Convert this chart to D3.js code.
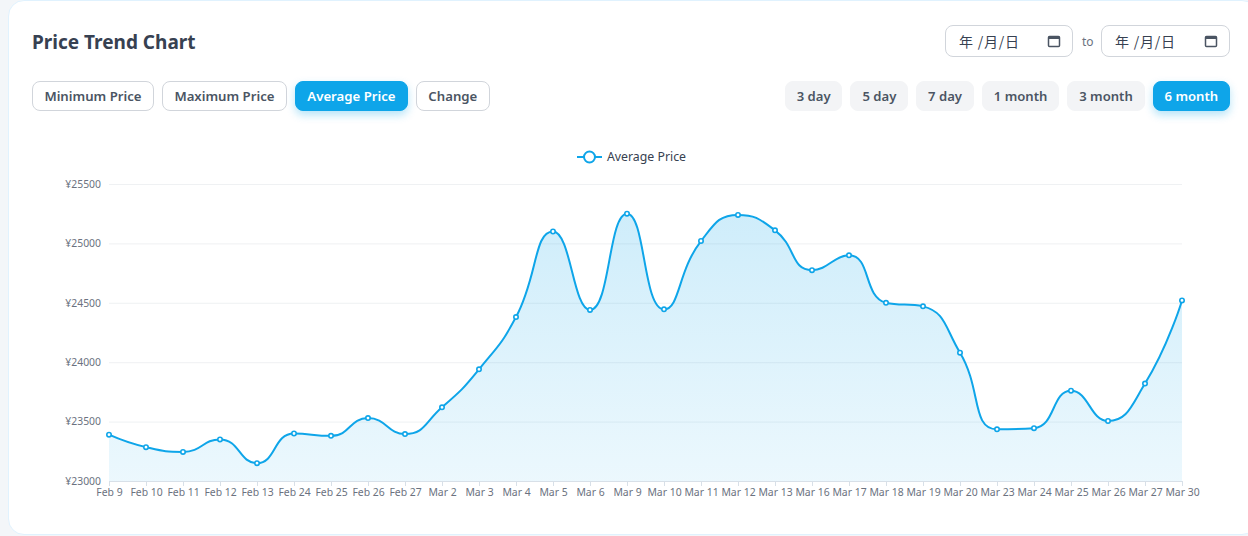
<!DOCTYPE html>
<html>
<head>
<meta charset="utf-8">
<script src="https://cdn.jsdelivr.net/npm/d3@7/dist/d3.min.js"></script>
<style>
  html, body { margin: 0; padding: 0; width: 1248px; height: 536px; overflow: hidden; background: #f3f6f9; font-family: "Noto Sans", "Noto Sans CJK SC", sans-serif; }
  .card { position: absolute; left: 8px; top: 0; width: 1250px; height: 535px; box-sizing: border-box; background: #fff; border-radius: 16px; border: 1px solid #e0f2fe; }
  .title { position: absolute; left: 32px; top: 28px; font-size: 19px; line-height: 28px; font-weight: 700; color: #374151; }
  .row { position: absolute; top: 81px; height: 30px; display: flex; gap: 8px; }
  .btn { box-sizing: border-box; height: 30px; line-height: 28px; padding: 0 11.4px; border-radius: 8px; font-size: 13.2px; font-weight: 600; color: #4b5563; white-space: nowrap; }
  .type { background: #fff; border: 1px solid #d1d5db; }
  .range { background: #f3f4f6; border: 1px solid #f3f4f6; padding: 0 10.9px; font-size: 13.1px; }
  .btn.on { background: #0ea5e9; border-color: #0ea5e9; color: #fff; box-shadow: 0 4px 8px rgba(14,165,233,.3); }
  .date { position: absolute; top: 25px; height: 32px; box-sizing: border-box; background: #fff; border: 1px solid #d1d5db; border-radius: 8px; font-size: 14px; line-height: 30px; color: #374151; }
  .date span { position: absolute; left: 13px; white-space: pre; letter-spacing: 0.8px; font-family: "Noto Sans CJK SC", sans-serif; }
  .date svg { position: absolute; right: 11px; top: 8px; }
  .to { position: absolute; left: 1082px; top: 33px; font-size: 12px; line-height: 18px; color: #6b7280; }
  #chart { position: absolute; left: 0; top: 0; }
</style>
</head>
<body>
<div class="card"></div>
<div class="title">Price Trend Chart</div>
<div id="dates"></div>
<div class="to">to</div>
<div class="row" id="types" style="left:32px"></div>
<div class="row" id="ranges" style="right:18px"></div>
<div id="chart"></div>
<script>
const priceTypes = ['Minimum Price', 'Maximum Price', 'Average Price', 'Change'];
const rangeOptions = ['3 day', '5 day', '7 day', '1 month', '3 month', '6 month'];
const activeType = 'Average Price';
const activeRange = '6 month';

const dates = ['Feb 9', 'Feb 10', 'Feb 11', 'Feb 12', 'Feb 13', 'Feb 24', 'Feb 25', 'Feb 26', 'Feb 27',
  'Mar 2', 'Mar 3', 'Mar 4', 'Mar 5', 'Mar 6', 'Mar 9', 'Mar 10', 'Mar 11', 'Mar 12', 'Mar 13',
  'Mar 16', 'Mar 17', 'Mar 18', 'Mar 19', 'Mar 20', 'Mar 23', 'Mar 24', 'Mar 25', 'Mar 26', 'Mar 27', 'Mar 30'];
const avgPrice = [23390, 23285, 23245, 23350, 23150, 23400, 23380, 23530, 23395,
  23620, 23940, 24380, 25100, 24440, 25250, 24445, 25020, 25240, 25110,
  24775, 24900, 24500, 24470, 24080, 23435, 23445, 23760, 23505, 23820, 24520];
const yTicks = [23000, 23500, 24000, 24500, 25000, 25500];

// buttons
d3.select('#types').selectAll('div').data(priceTypes).join('div')
  .attr('class', d => 'btn type' + (d === activeType ? ' on' : ''))
  .text(d => d);
d3.select('#ranges').selectAll('div').data(rangeOptions).join('div')
  .attr('class', d => 'btn range' + (d === activeRange ? ' on' : ''))
  .text(d => d);

// date inputs (drawn as text, the native control depends on the browser locale)
const dateBox = d3.select('#dates').selectAll('div').data([945, 1101]).join('div')
  .attr('class', 'date')
  .style('left', d => d + 'px')
  .style('width', (d, i) => (i ? 129 : 128) + 'px');
dateBox.append('span').text('年 /月/日');
const cal = dateBox.append('svg').attr('width', 14).attr('height', 14).attr('viewBox', '0 0 14 14');
cal.append('rect').attr('x', 1.5).attr('y', 2.5).attr('width', 11).attr('height', 10).attr('rx', 1)
  .attr('fill', 'none').attr('stroke', '#4b5563').attr('stroke-width', 1.5);
cal.append('rect').attr('x', 1.5).attr('y', 2.5).attr('width', 11).attr('height', 2.5).attr('fill', '#4b5563');

// chart
const width = 1248, height = 536;
const margin = { top: 184, right: 66, bottom: 55, left: 109 };
const accent = '#0ea5e9';

const svg = d3.select('#chart').append('svg')
  .attr('width', width)
  .attr('height', height)
  .style('display', 'block');

const x = d3.scalePoint().domain(dates).range([margin.left, width - margin.right]);
const y = d3.scaleLinear().domain([23000, 25500]).range([height - margin.bottom, margin.top]);

// same control point rule as an echarts smooth line (smooth = 0.5, clamped to each segment)
function smoothCurve(context) {
  let pts;
  return {
    lineStart() { pts = []; },
    lineEnd() {
      const s = 0.5;
      let cx = pts[0][0], cy = pts[0][1];
      context.moveTo(cx, cy);
      for (let i = 1; i < pts.length; i++) {
        const [px, py] = pts[i - 1], [px0, py0] = pts[i];
        const next = pts[i + 1];
        let ex = px0, ey = py0, ncx = px0, ncy = py0;
        if (next) {
          const [nx, ny] = next;
          let vx = nx - px, vy = ny - py;
          const lenPrev = Math.hypot(px0 - px, py0 - py), lenNext = Math.hypot(nx - px0, ny - py0);
          const ratio = lenNext / (lenNext + lenPrev);
          ex = px0 - vx * s * (1 - ratio);
          ey = py0 - vy * s * (1 - ratio);
          ncx = px0 + vx * s * ratio;
          ncy = py0 + vy * s * ratio;
          ncx = Math.max(Math.min(ncx, Math.max(nx, px0)), Math.min(nx, px0));
          ncy = Math.max(Math.min(ncy, Math.max(ny, py0)), Math.min(ny, py0));
          vx = ncx - px0; vy = ncy - py0;
          ex = px0 - vx * lenPrev / lenNext;
          ey = py0 - vy * lenPrev / lenNext;
          ex = Math.max(Math.min(ex, Math.max(px, px0)), Math.min(px, px0));
          ey = Math.max(Math.min(ey, Math.max(py, py0)), Math.min(py, py0));
          vx = px0 - ex; vy = py0 - ey;
          ncx = px0 + vx * lenNext / lenPrev;
          ncy = py0 + vy * lenNext / lenPrev;
        }
        context.bezierCurveTo(cx, cy, ex, ey, px0, py0);
        cx = ncx; cy = ncy;
      }
    },
    point(a, b) { pts.push([+a, +b]); },
    areaStart() {},
    areaEnd() {}
  };
}

const grad = svg.append('defs').append('linearGradient')
  .attr('id', 'areaFill')
  .attr('gradientUnits', 'userSpaceOnUse')
  .attr('x1', 0).attr('x2', 0)
  .attr('y1', y(d3.max(avgPrice))).attr('y2', y(23000));
grad.append('stop').attr('offset', 0).attr('stop-color', accent).attr('stop-opacity', 0.2);
grad.append('stop').attr('offset', 1).attr('stop-color', accent).attr('stop-opacity', 0.08);

// grid
svg.append('g').selectAll('line').data(yTicks.slice(1)).join('line')
  .attr('x1', margin.left).attr('x2', width - margin.right)
  .attr('y1', d => y(d) + 0.5).attr('y2', d => y(d) + 0.5)
  .attr('stroke', '#e5e7eb').attr('stroke-opacity', 0.6);

// smooth top edge, then close down to the baseline
const points = dates.map((d, i) => [x(d), y(avgPrice[i])]);
const topPath = d3.line().curve(smoothCurve)(points);
svg.append('path')
  .attr('d', `${topPath}L${x(dates[dates.length - 1])},${y(23000)}L${x(dates[0])},${y(23000)}Z`)
  .attr('fill', 'url(#areaFill)');
svg.append('path')
  .attr('d', topPath)
  .attr('fill', 'none')
  .attr('stroke', accent)
  .attr('stroke-width', 2);

// axes
const xAxis = svg.append('g')
  .attr('transform', `translate(0,${y(23000)})`)
  .call(d3.axisBottom(x).tickSize(5).tickPadding(3));
xAxis.select('.domain').attr('stroke', '#d8e0e8');
xAxis.selectAll('.tick line').attr('stroke', '#d8e0e8');

const yAxis = svg.append('g')
  .attr('transform', `translate(${margin.left},0)`)
  .call(d3.axisLeft(y).tickValues(yTicks).tickSize(0).tickPadding(8).tickFormat(d => '¥' + d));
yAxis.select('.domain').remove();

svg.selectAll('.tick text')
  .attr('fill', '#6b7280')
  .style('font-size', '10.4px')
  .style('font-family', '"Noto Sans", sans-serif');

// markers
svg.append('g').selectAll('circle').data(avgPrice).join('circle')
  .attr('cx', (d, i) => x(dates[i]))
  .attr('cy', d => y(d))
  .attr('r', 2.2)
  .attr('fill', '#fff')
  .attr('stroke', accent)
  .attr('stroke-width', 1.6);

// legend
const legend = svg.append('g').attr('transform', 'translate(577,157)');
legend.append('line').attr('x1', 0).attr('x2', 25).attr('stroke', accent).attr('stroke-width', 2);
legend.append('circle').attr('cx', 12.5).attr('r', 5.5).attr('fill', '#fff').attr('stroke', accent).attr('stroke-width', 2);
legend.append('text').attr('x', 30).attr('dy', '0.35em')
  .attr('fill', '#374151').style('font-size', '12.3px').text(activeType);
</script>
</body>
</html>
